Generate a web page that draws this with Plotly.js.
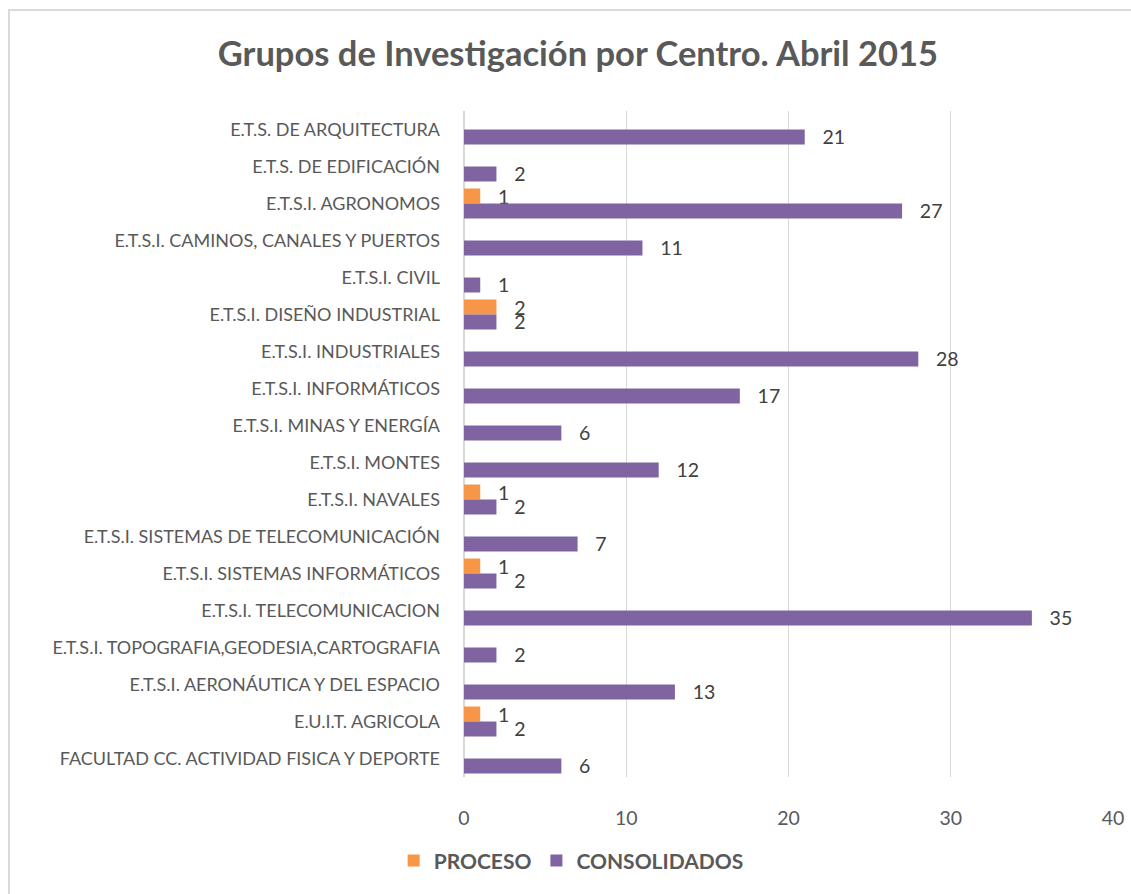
<!DOCTYPE html>
<html>
<head>
<meta charset="utf-8">
<script src="https://cdn.plot.ly/plotly-3.0.1.min.js"></script>
<style>
  html, body { margin: 0; padding: 0; background: #fff; overflow: hidden; }
  #wrap { position: relative; width: 1131px; height: 894px; }
  #chart { position: absolute; left: 0; top: 0; width: 1131px; height: 894px; }
  #frame { position: absolute; left: 8px; top: 9px; width: 1300px; height: 1000px;
           border: 2px solid #d9d9d9; pointer-events: none; box-sizing: border-box; }
</style>
</head>
<body>
<div id="wrap">
  <div id="chart"></div>
  <div id="frame"></div>
</div>
<script>
const categories = [
  "E.T.S. DE ARQUITECTURA",
  "E.T.S. DE EDIFICACIÓN",
  "E.T.S.I. AGRONOMOS",
  "E.T.S.I. CAMINOS, CANALES Y PUERTOS",
  "E.T.S.I. CIVIL",
  "E.T.S.I. DISEÑO INDUSTRIAL",
  "E.T.S.I. INDUSTRIALES",
  "E.T.S.I. INFORMÁTICOS",
  "E.T.S.I. MINAS Y ENERGÍA",
  "E.T.S.I. MONTES",
  "E.T.S.I. NAVALES",
  "E.T.S.I. SISTEMAS DE TELECOMUNICACIÓN",
  "E.T.S.I. SISTEMAS INFORMÁTICOS",
  "E.T.S.I. TELECOMUNICACION",
  "E.T.S.I. TOPOGRAFIA,GEODESIA,CARTOGRAFIA",
  "E.T.S.I. AERONÁUTICA Y DEL ESPACIO",
  "E.U.I.T. AGRICOLA",
  "FACULTAD CC. ACTIVIDAD FISICA Y DEPORTE"
];
const proceso = [null, null, 1, null, null, 2, null, null, null, null, 1, null, 1, null, null, null, 1, null];
const consolidados = [21, 2, 27, 11, 1, 2, 28, 17, 6, 12, 2, 7, 2, 35, 2, 13, 2, 6];
const seriesNames = ["PROCESO", "CONSOLIDADOS"];
const xTicks = [0, 10, 20, 30, 40];

const FONT = "Lato, 'Open Sans', sans-serif";
const GRAY = "#595959";

function barTrace(name, values, color) {
  return {
    type: "bar",
    orientation: "h",
    name: name,
    y: categories,
    x: values,
    marker: { color: color },
    texttemplate: "\u2002\u00a0%{x}",
    textposition: "outside",
    constraintext: "none",
    cliponaxis: false,
    textfont: { family: FONT, size: 19.5, color: "#404040" },
    hoverinfo: "x+y+name"
  };
}

const data = [
  barTrace(seriesNames[0], proceso, "#F79646"),
  barTrace(seriesNames[1], consolidados, "#8064A2")
];

const layout = {
  width: 1131,
  height: 894,
  paper_bgcolor: "rgba(0,0,0,0)",
  plot_bgcolor: "rgba(0,0,0,0)",
  font: { family: FONT, color: GRAY },
  margin: { l: 464, r: 18, t: 111, b: 117 },
  title: {
    text: "<b>Grupos de Investigación por Centro. Abril 2015</b>",
    font: { family: FONT, size: 34.5, color: GRAY },
    x: 0.511, xanchor: "center",
    y: 0.94, yanchor: "middle"
  },
  barmode: "group",
  bargap: 0.19,
  bargroupgap: 0,
  showlegend: true,
  legend: {
    orientation: "h",
    xref: "container", x: 0.505, xanchor: "center",
    yref: "container", y: 0.037, yanchor: "middle",
    font: { family: FONT, size: 21, color: GRAY, weight: "bold" },
    itemwidth: 30,
    traceorder: "normal"
  },
  xaxis: {
    range: [0, 40],
    tickvals: xTicks,
    ticktext: xTicks.map(String),
    showgrid: true,
    gridcolor: "#d9d9d9",
    gridwidth: 1.3,
    zeroline: true,
    zerolinecolor: "#d9d9d9",
    zerolinewidth: 1.3,
    showline: false,
    ticks: "",
    ticklabelstandoff: 27,
    tickfont: { family: FONT, size: 19.5, color: GRAY },
    fixedrange: true
  },
  yaxis: {
    type: "category",
    autorange: "reversed",
    showgrid: false,
    zeroline: false,
    showline: false,
    ticks: "",
    ticklabelstandoff: 23,
    tickfont: { family: FONT, size: 18, color: GRAY },
    fixedrange: true
  }
};

Plotly.newPlot("chart", data, layout, { displayModeBar: false, staticPlot: true });
</script>
</body>
</html>
